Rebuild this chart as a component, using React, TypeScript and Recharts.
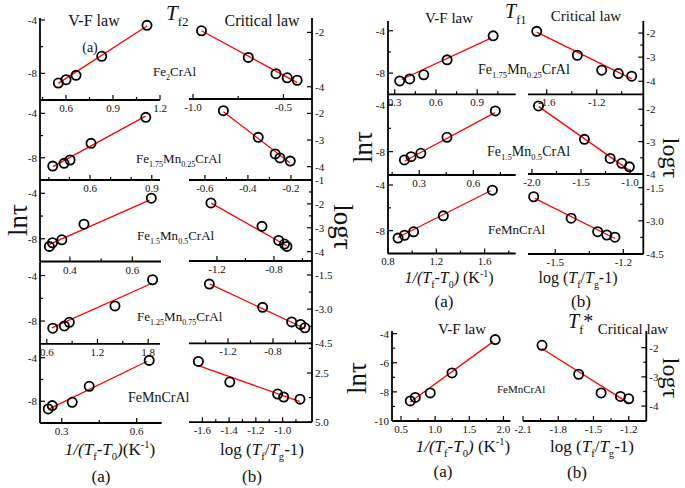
import React from 'react';
import { ComposedChart, Line, Scatter, XAxis, YAxis } from 'recharts';

const SERIF = "'Liberation Serif', 'Times New Roman', serif";

// ---- T_f2, V-F law: x = 1/(Tf-T0), y = ln tau ----
const f2Fe2VfX = [0.551, 0.6, 0.664, 0.828, 1.117];
const f2Fe2VfY = [-8.73, -8.48, -8.15, -6.72, -4.4];
const f2Fe2VfFit = [[0.551, -8.75], [1.117, -4.45]];
const f2Mn025VfX = [0.419, 0.474, 0.503, 0.605, 0.871];
const f2Mn025VfY = [-8.75, -8.5, -8.2, -6.7, -4.36];
const f2Mn025VfFit = [[0.42, -8.8], [0.87, -4.25]];
const f2Mn05VfX = [0.334, 0.344, 0.374, 0.445, 0.661];
const f2Mn05VfY = [-8.67, -8.35, -8.09, -6.72, -4.43];
const f2Mn05VfFit = [[0.334, -8.5], [0.655, -4.6]];
const f2Mn075VfX = [0.671, 0.808, 0.867, 1.407, 1.852];
const f2Mn075VfY = [-8.63, -8.43, -8.11, -6.67, -4.37];
const f2Mn075VfFit = [[0.66, -8.6], [1.84, -4.7]];
const f2Mn1VfX = [0.246, 0.262, 0.342, 0.41, 0.65];
const f2Mn1VfY = [-8.71, -8.4, -8.1, -6.63, -4.25];
const f2Mn1VfFit = [[0.246, -8.75], [0.64, -4.35]];

// ---- T_f2, critical law: x = log(Tf/Tg-1), y = log tau ----
const f2Fe2CrX = [-0.953, -0.694, -0.541, -0.479, -0.424];
const f2Fe2CrY = [-1.94, -2.92, -3.52, -3.67, -3.76];
const f2Fe2CrFit = [[-0.953, -1.94], [-0.424, -3.85]];
const f2Mn025CrX = [-0.514, -0.352, -0.273, -0.251, -0.203];
const f2Mn025CrY = [-1.9, -2.9, -3.52, -3.67, -3.79];
const f2Mn025CrFit = [[-0.514, -1.94], [-0.205, -3.85]];
const f2Mn05CrX = [-1.242, -0.884, -0.767, -0.726, -0.709];
const f2Mn05CrY = [-1.96, -2.94, -3.53, -3.68, -3.78];
const f2Mn05CrFit = [[-1.24, -1.97], [-0.71, -3.75]];
const f2Mn075CrX = [-1.366, -0.892, -0.634, -0.554, -0.516];
const f2Mn075CrY = [-1.9, -2.92, -3.56, -3.67, -3.82];
const f2Mn075CrFit = [[-1.36, -1.9], [-0.516, -3.85]];
const f2Mn1CrX = [-1.63, -1.395, -1.037, -0.992, -0.87];
const f2Mn1CrY = [-1.91, -2.96, -3.57, -3.72, -3.83];
const f2Mn1CrFit = [[-1.63, -2.13], [-0.87, -3.95]];

// ---- T_f1 ----
const f1Mn025VfX = [0.336, 0.409, 0.511, 0.681, 1.016];
const f1Mn025VfY = [-8.74, -8.55, -8.16, -6.75, -4.48];
const f1Mn025VfFit = [[0.35, -8.6], [1.0, -4.7]];
const f1Mn05VfX = [0.218, 0.255, 0.309, 0.454, 0.722];
const f1Mn05VfY = [-8.71, -8.43, -8.14, -6.77, -4.51];
const f1Mn05VfFit = [[0.22, -8.8], [0.72, -4.65]];
const f1Mn1VfX = [0.883, 0.937, 1.012, 1.258, 1.664];
const f1Mn1VfY = [-8.65, -8.4, -8.1, -6.7, -4.45];
const f1Mn1VfFit = [[0.88, -8.6], [1.65, -4.5]];
const f1Mn025CrX = [-1.68, -1.355, -1.16, -1.027, -0.92];
const f1Mn025CrY = [-1.93, -2.92, -3.54, -3.68, -3.79];
const f1Mn025CrFit = [[-1.68, -1.96], [-0.92, -3.9]];
const f1Mn05CrX = [-1.933, -1.465, -1.203, -1.084, -1.007];
const f1Mn05CrY = [-1.9, -2.93, -3.52, -3.67, -3.78];
const f1Mn05CrFit = [[-1.93, -1.92], [-1.01, -3.88]];
const f1Mn1CrX = [-1.595, -1.43, -1.313, -1.273, -1.237];
const f1Mn1CrY = [-1.91, -2.88, -3.49, -3.64, -3.74];
const f1Mn1CrFit = [[-1.59, -1.98], [-1.237, -3.8]];

// ---- T_f* ----
const fsVfX = [0.636, 0.709, 0.928, 1.246, 1.879];
const fsVfY = [-8.62, -8.38, -8.07, -6.7, -4.41];
const fsVfFit = [[0.636, -8.7], [1.85, -4.55]];
const fsCrX = [-1.938, -1.626, -1.435, -1.27, -1.2];
const fsCrY = [-1.92, -2.91, -3.55, -3.67, -3.75];
const fsCrFit = [[-1.94, -2.03], [-1.2, -3.9]];

const AXW = 34;
const AXH = 24;
const PAD = 12;

const str = (v: number) => String(v);
const fix1 = (v: number) => v.toFixed(1);
const abs1 = (v: number) => Math.abs(v).toFixed(1);

const makeTick = (side: string, major: number[], fmt: (v: number) => string) => (props: any) => {
	const { x, y, payload } = props;
	const v = payload.value;
	const isMajor = major.some((m) => Math.abs(m - v) < 1e-9);
	const len = isMajor ? 5 : 3;
	if (side === 'bottom') {
		return (
			<g>
				<line x1={x} y1={y} x2={x} y2={y - len} stroke="#000" strokeWidth={1.2} />
				{isMajor && (
					<text x={x} y={y + 12} textAnchor="middle" fontSize={11} fontFamily={SERIF} fill="#111">
						{fmt(v)}
					</text>
				)}
			</g>
		);
	}
	const dir = side === 'left' ? 1 : -1;
	return (
		<g>
			<line x1={x} y1={y} x2={x + dir * len} y2={y} stroke="#000" strokeWidth={1.2} />
			{isMajor && (
				<text x={x - dir * 3} y={y + 4} textAnchor={side === 'left' ? 'end' : 'start'} fontSize={11} fontFamily={SERIF} fill="#111">
					{fmt(v)}
				</text>
			)}
		</g>
	);
};

const circle = (props: any) => <circle cx={props.cx} cy={props.cy} r={4.6} fill="none" stroke="#000" strokeWidth={1.8} />;

type PanelDef = {
	px: number[];
	py: number[];
	xDomain: number[];
	yDomain: number[];
	xTicks: number[];
	xMajor: number[];
	xFmt?: (v: number) => string;
	yTicks: number[];
	yMajor: number[];
	yFmt?: (v: number) => string;
	side: 'left' | 'right';
	xs: number[];
	ys: number[];
	fit: number[][];
};

function Panel(p: PanelDef) {
	const pw = p.px[1] - p.px[0];
	const ph = p.py[1] - p.py[0];
	const W = pw + AXW + 2 * PAD;
	const H = ph + AXH + 2 * PAD;
	const left = (p.side === 'left' ? p.px[0] - AXW : p.px[0]) - PAD;
	const pts = p.xs.map((x, i) => ({ x, y: p.ys[i] }));
	const fit = p.fit.map(([x, y]) => ({ x, y }));
	const axisLine = { stroke: '#000', strokeWidth: 1.8 };
	return (
		<div style={{ position: 'absolute', left, top: p.py[0] - PAD, width: W, height: H }}>
			<ComposedChart width={W} height={H} margin={{ top: PAD, right: PAD, bottom: PAD, left: PAD }}>
				<XAxis
					type="number"
					dataKey="x"
					domain={p.xDomain}
					ticks={p.xTicks}
					interval={0}
					allowDataOverflow
					tickSize={0}
					tickMargin={0}
					tickLine={false}
					axisLine={axisLine}
					height={AXH}
					tick={makeTick('bottom', p.xMajor, p.xFmt || str)}
				/>
				<YAxis
					type="number"
					dataKey="y"
					orientation={p.side}
					domain={p.yDomain}
					ticks={p.yTicks}
					interval={0}
					allowDataOverflow
					tickSize={0}
					tickMargin={0}
					tickLine={false}
					axisLine={axisLine}
					width={AXW}
					tick={makeTick(p.side, p.yMajor, p.yFmt || str)}
				/>
				<Line data={fit} dataKey="y" type="linear" stroke="#f00" strokeWidth={1.3} dot={false} activeDot={false} isAnimationActive={false} />
				<Scatter data={pts} dataKey="y" shape={circle} isAnimationActive={false} />
			</ComposedChart>
		</div>
	);
}

const vfY = [-8, -6, -4];
const vfMaj = [-8, -4];

const panels: PanelDef[] = [
	// T_f2 V-F column
	{ px: [40, 160], py: [18, 100], xDomain: [0.434, 1.2], yDomain: [-10, -3.85], xTicks: [0.45, 0.6, 0.75, 0.9, 1.05, 1.2], xMajor: [0.6, 0.9, 1.2], yTicks: vfY, yMajor: vfMaj, side: 'left', xs: f2Fe2VfX, ys: f2Fe2VfY, fit: f2Fe2VfFit },
	{ px: [40, 160], py: [100, 180], xDomain: [0.357, 0.94], yDomain: [-10, -2.8], xTicks: [0.4, 0.5, 0.6, 0.7, 0.8, 0.9], xMajor: [0.6, 0.9], yTicks: vfY, yMajor: vfMaj, side: 'left', xs: f2Mn025VfX, ys: f2Mn025VfY, fit: f2Mn025VfFit },
	{ px: [40, 161], py: [180, 261.5], xDomain: [0.304, 0.692], yDomain: [-10, -2.83], xTicks: [0.4, 0.5, 0.6], xMajor: [0.4, 0.6], yTicks: vfY, yMajor: vfMaj, side: 'left', xs: f2Mn05VfX, ys: f2Mn05VfY, fit: f2Mn05VfFit },
	{ px: [40, 160], py: [261.5, 343.3], xDomain: [0.52, 1.94], yDomain: [-10, -2.81], xTicks: [0.6, 0.9, 1.2, 1.5, 1.8], xMajor: [0.6, 1.2, 1.8], yTicks: vfY, yMajor: vfMaj, side: 'left', xs: f2Mn075VfX, ys: f2Mn075VfY, fit: f2Mn075VfFit },
	{ px: [40, 161.7], py: [343.3, 423.3], xDomain: [0.213, 0.7], yDomain: [-10, -2.65], xTicks: [0.3, 0.45, 0.6], xMajor: [0.3, 0.6], yTicks: vfY, yMajor: vfMaj, side: 'left', xs: f2Mn1VfX, ys: f2Mn1VfY, fit: f2Mn1VfFit },
	// T_f2 critical column
	{ px: [189, 312], py: [18, 99], xDomain: [-1.022, -0.342], yDomain: [-4.45, -1.47], xTicks: [-1.0, -0.75, -0.5], xMajor: [-1.0, -0.5], xFmt: fix1, yTicks: [-4, -3, -2], yMajor: [-4, -2], side: 'right', xs: f2Fe2CrX, ys: f2Fe2CrY, fit: f2Fe2CrFit },
	{ px: [189, 312], py: [99, 180], xDomain: [-0.674, -0.102], yDomain: [-4.5, -1.46], xTicks: [-0.6, -0.5, -0.4, -0.3, -0.2], xMajor: [-0.6, -0.4, -0.2], yTicks: [-4, -3, -2], yMajor: [-4, -3, -2], side: 'right', xs: f2Mn025CrX, ys: f2Mn025CrY, fit: f2Mn025CrFit },
	{ px: [189, 312], py: [180, 261], xDomain: [-1.396, -0.533], yDomain: [-4.39, -1.0], xTicks: [-1.2, -1.0, -0.8, -0.6], xMajor: [-1.2, -0.8], xFmt: fix1, yTicks: [-4, -3.5, -3, -2.5, -2, -1.5, -1], yMajor: [-4, -3, -2, -1], side: 'right', xs: f2Mn05CrX, ys: f2Mn05CrY, fit: f2Mn05CrFit },
	{ px: [189, 312], py: [261, 343.3], xDomain: [-1.547, -0.453], yDomain: [-4.5, -0.885], xTicks: [-1.4, -1.2, -1.0, -0.8, -0.6], xMajor: [-1.2, -0.8], xFmt: fix1, yTicks: [-4.5, -3.75, -3, -2.25, -1.5], yMajor: [-4.5, -3, -1.5], yFmt: fix1, side: 'right', xs: f2Mn075CrX, ys: f2Mn075CrY, fit: f2Mn075CrFit },
	{ px: [189, 312], py: [343.3, 422.5], xDomain: [-1.7, -0.78], yDomain: [-5.0, -0.976], xTicks: [-1.6, -1.5, -1.4, -1.3, -1.2, -1.1, -1.0, -0.9], xMajor: [-1.6, -1.4, -1.2, -1.0], xFmt: fix1, yTicks: [-5, -3.75, -2.5, -1.25], yMajor: [-5, -2.5], yFmt: abs1, side: 'right', xs: f2Mn1CrX, ys: f2Mn1CrY, fit: f2Mn1CrFit },
	// T_f1 V-F column
	{ px: [388.3, 516], py: [20.7, 94], xDomain: [0.251, 1.18], yDomain: [-10, -3.08], xTicks: [0.3, 0.45, 0.6, 0.75, 0.9, 1.05], xMajor: [0.3, 0.6, 0.9], yTicks: vfY, yMajor: vfMaj, side: 'left', xs: f1Mn025VfX, ys: f1Mn025VfY, fit: f1Mn025VfFit },
	{ px: [388.3, 516], py: [94, 175], xDomain: [0.127, 0.835], yDomain: [-10, -3.06], xTicks: [0.15, 0.3, 0.45, 0.6, 0.75], xMajor: [0.3, 0.6], yTicks: vfY, yMajor: vfMaj, side: 'left', xs: f1Mn05VfX, ys: f1Mn05VfY, fit: f1Mn05VfFit },
	{ px: [388.3, 516], py: [175, 253.5], xDomain: [0.8, 1.857], yDomain: [-10, -3.12], xTicks: [0.8, 1.0, 1.2, 1.4, 1.6, 1.8], xMajor: [0.8, 1.2, 1.6], yTicks: vfY, yMajor: vfMaj, side: 'left', xs: f1Mn1VfX, ys: f1Mn1VfY, fit: f1Mn1VfFit },
	// T_f1 critical column
	{ px: [528, 643.3], py: [20.7, 94], xDomain: [-1.75, -0.827], yDomain: [-4.54, -1.5], xTicks: [-1.6, -1.4, -1.2, -1.0], xMajor: [-1.6, -1.2], xFmt: fix1, yTicks: [-4, -3.5, -3, -2.5, -2], yMajor: [-4, -3, -2], side: 'right', xs: f1Mn025CrX, ys: f1Mn025CrY, fit: f1Mn025CrFit },
	{ px: [528, 643.3], py: [94, 174], xDomain: [-2.04, -0.865], yDomain: [-4, -1.53], xTicks: [-2.0, -1.75, -1.5, -1.25, -1.0], xMajor: [-2.0, -1.5, -1.0], xFmt: fix1, yTicks: [-4, -3.5, -3, -2.5, -2], yMajor: [-4, -3, -2], side: 'right', xs: f1Mn05CrX, ys: f1Mn05CrY, fit: f1Mn05CrFit },
	{ px: [528, 643.3], py: [174, 254], xDomain: [-1.62, -1.112], yDomain: [-4.5, -0.88], xTicks: [-1.5, -1.35, -1.2], xMajor: [-1.5, -1.2], xFmt: fix1, yTicks: [-4.5, -3.75, -3, -2.25, -1.5], yMajor: [-4.5, -3, -1.5], yFmt: fix1, side: 'right', xs: f1Mn1CrX, ys: f1Mn1CrY, fit: f1Mn1CrFit },
	// T_f*
	{ px: [391.7, 510], py: [330.7, 420.7], xDomain: [0.368, 2.1], yDomain: [-10, -3.82], xTicks: [0.5, 0.75, 1.0, 1.25, 1.5, 1.75, 2.0], xMajor: [0.5, 1.0, 1.5, 2.0], xFmt: fix1, yTicks: [-10, -9, -8, -7, -6, -5, -4], yMajor: [-10, -8, -6, -4], side: 'left', xs: fsVfX, ys: fsVfY, fit: fsVfFit },
	{ px: [522.7, 646], py: [330.7, 420.7], xDomain: [-2.1, -1.05], yDomain: [-4.51, -1.43], xTicks: [-2.1, -1.95, -1.8, -1.65, -1.5, -1.35, -1.2], xMajor: [-2.1, -1.8, -1.5, -1.2], xFmt: fix1, yTicks: [-4, -3.5, -3, -2.5, -2], yMajor: [-4, -3, -2], side: 'right', xs: fsCrX, ys: fsCrY, fit: fsCrFit }
];

type Piece = [string, string?];

function Rich({ x, y, size, parts, anchor = 'start' }: { x: number; y: number; size: number; parts: Piece[]; anchor?: string }) {
	let shift = 0;
	const spans = parts.map(([t, k = 'n'], i) => {
		const target = k === 'b' ? size * 0.3 : k === 'p' ? -size * 0.4 : 0;
		const dy = target - shift;
		shift = target;
		const small = k === 'b' || k === 'p';
		return (
			<tspan key={i} dy={dy} fontSize={small ? size * 0.62 : size} fontStyle={k === 'i' ? 'italic' : 'normal'}>
				{t}
			</tspan>
		);
	});
	return (
		<text x={x} y={y} fontSize={size} fontFamily={SERIF} fill="#111" textAnchor={anchor as any}>
			{spans}
		</text>
	);
}

function Vert({ cx, cy, text, rot, size = 27 }: { cx: number; cy: number; text: string; rot: number; size?: number }) {
	return (
		<text transform={`translate(${cx},${cy}) rotate(${rot})`} textAnchor="middle" dominantBaseline="central" fontSize={size} fontFamily={SERIF} fill="#111">
			{text}
		</text>
	);
}

const vfTitle: Piece[] = [['1/(T', 'i'], ['f', 'b'], ['-T', 'i'], ['0', 'b'], [')', 'i'], ['(K'], ['-1', 'p'], [')']];
const vfTitleSp: Piece[] = [['1/(T', 'i'], ['f', 'b'], ['-T', 'i'], ['0', 'b'], [')', 'i'], [' (K'], ['-1', 'p'], [')']];
const crTitle: Piece[] = [['log ('], ['T', 'i'], ['f', 'b'], ['/'], ['T', 'i'], ['g', 'b'], ['-1)']];

const mn025: Piece[] = [['Fe'], ['1.75', 'b'], ['Mn'], ['0.25', 'b'], ['CrAl']];
const mn05: Piece[] = [['Fe'], ['1.5', 'b'], ['Mn'], ['0.5', 'b'], ['CrAl']];
const mn075: Piece[] = [['Fe'], ['1.25', 'b'], ['Mn'], ['0.75', 'b'], ['CrAl']];

function Labels() {
	return (
		<svg width={685} height={488} style={{ position: 'absolute', left: 0, top: 0, pointerEvents: 'none' }}>
			{/* left group, T_f2 */}
			<Rich x={94} y={26} size={16} anchor="middle" parts={[['V-F law']]} />
			<Rich x={166} y={20} size={21} parts={[['T', 'i'], ['f2', 'b']]} />
			<Rich x={262} y={26} size={16} anchor="middle" parts={[['Critical law']]} />
			<Rich x={90} y={52} size={14} anchor="middle" parts={[['(a)']]} />
			<Rich x={153} y={76} size={13} parts={[['Fe'], ['2', 'b'], ['CrAl']]} />
			<Rich x={136} y={163} size={13} parts={mn025} />
			<Rich x={137} y={240} size={13} parts={mn05} />
			<Rich x={137} y={321} size={13} parts={mn075} />
			<Rich x={128} y={402} size={14} parts={[['FeMnCrAl']]} />
			<Vert cx={18} cy={220} text="lnτ" rot={-90} />
			<Vert cx={343} cy={227} text="logτ" rot={90} />
			<Rich x={110} y={455} size={17} anchor="middle" parts={vfTitle} />
			<Rich x={262} y={455} size={17} anchor="middle" parts={crTitle} />
			<Rich x={101} y={482} size={17} anchor="middle" parts={[['(a)']]} />
			<Rich x={252} y={482} size={17} anchor="middle" parts={[['(b)']]} />
			{/* right top group, T_f1 */}
			<Rich x={449} y={23} size={15} anchor="middle" parts={[['V-F law']]} />
			<Rich x={505} y={18} size={20} parts={[['T', 'i'], ['f1', 'b']]} />
			<Rich x={586} y={21} size={15} anchor="middle" parts={[['Critical law']]} />
			<Rich x={478} y={74} size={14} parts={mn025} />
			<Rich x={487} y={156} size={14} parts={mn05} />
			<Rich x={488} y={234} size={13} parts={[['FeMnCrAl']]} />
			<Vert cx={363} cy={147} text="lnτ" rot={-90} />
			<Vert cx={671} cy={158} text="logτ" rot={90} size={24} />
			<Rich x={449} y={283} size={16} anchor="middle" parts={vfTitleSp} />
			<Rich x={578} y={283} size={16} anchor="middle" parts={crTitle} />
			<Rich x={444} y={307} size={17} anchor="middle" parts={[['(a)']]} />
			<Rich x={581} y={307} size={17} anchor="middle" parts={[['(b)']]} />
			{/* right bottom group, T_f* */}
			<Rich x={568} y={328} size={20} parts={[['T', 'i'], ['f', 'b'], ['*']]} />
			<Rich x={462} y={334} size={15} anchor="middle" parts={[['V-F law']]} />
			<Rich x={633} y={334} size={15} anchor="middle" parts={[['Critical law']]} />
			<Rich x={497} y={393} size={11} parts={[['FeMnCrAl']]} />
			<Vert cx={357} cy={378} text="lnτ" rot={-90} />
			<Vert cx={671} cy={378} text="logτ" rot={90} size={24} />
			<Rich x={463} y={452} size={17} anchor="middle" parts={vfTitleSp} />
			<Rich x={592} y={452} size={17} anchor="middle" parts={crTitle} />
			<Rich x={443} y={477} size={17} anchor="middle" parts={[['(a)']]} />
			<Rich x={577} y={478} size={17} anchor="middle" parts={[['(b)']]} />
		</svg>
	);
}

export default function App() {
	return (
		<div style={{ position: 'absolute', left: 0, top: 0, width: 685, height: 488, background: '#fff', overflow: 'hidden' }}>
			{panels.map((p, i) => (
				<Panel key={i} {...p} />
			))}
			<Labels />
		</div>
	);
}
